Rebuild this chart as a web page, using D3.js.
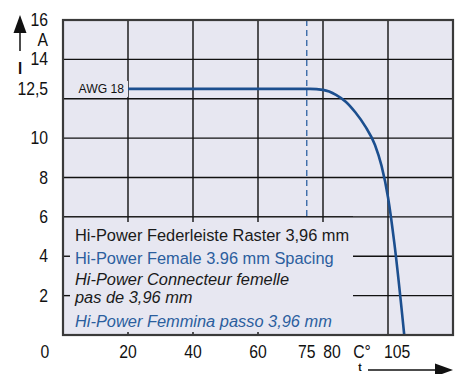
<!DOCTYPE html>
<html>
<head>
<meta charset="utf-8">
<script src="https://cdn.jsdelivr.net/npm/d3@7"></script>
<style>
  body { margin: 0; background: #fff; }
  svg text { font-family: "Liberation Sans", Arial, sans-serif; }
</style>
</head>
<body>
<div class="chart"></div>
<script>
// derating curve, temperature (°C) vs current (A)
var tempC = [20, 76, 80, 84, 87, 90, 93, 96, 98, 100, 102, 105];
var currentA = [12.5, 12.5, 12.45, 12.2, 11.85, 11.3, 10.6, 9.65, 8.6, 7.0, 4.6, 0];

var xGrid = [20, 40, 60, 80, 100];
var yGrid = [2, 4, 6, 8, 10, 12, 14];
var xTickVals = [20, 40, 60, 75, 80, 105];
var yTickVals = [2, 4, 6, 8, 10, 12.5, 14, 16];
var yTickLabels = ['2', '4', '6', '8', '10', '12,5', '14', '16'];
var ratedTemp = 75;
var wireLabel = 'AWG 18';
var legendLines = [
  {text: 'Hi-Power Federleiste Raster 3,96 mm', color: '#1a1a1a', italic: false},
  {text: 'Hi-Power Female 3.96 mm Spacing', color: '#2b5e9e', italic: false},
  {text: 'Hi-Power Connecteur femelle', color: '#1a1a1a', italic: true},
  {text: 'pas de 3,96 mm', color: '#1a1a1a', italic: true},
  {text: 'Hi-Power Femmina passo 3,96 mm', color: '#2b5e9e', italic: true}
];

var W = 458, H = 374;
var bg = '#e7e7f1';
var blue = '#1c4f8f';

var svg = d3.select('.chart').append('svg')
  .attr('width', W)
  .attr('height', H);

var x = d3.scaleLinear().domain([0, 120]).range([63, 453]);
var y = d3.scaleLinear().domain([0, 16]).range([335, 20]);

// condensed text: horizontal squeeze around the anchor point
function label(px, py, str, opts) {
  opts = opts || {};
  return svg.append('text')
    .attr('transform', 'translate(' + px + ',' + py + ') scale(' + (opts.sx || 0.88) + ',1)')
    .attr('text-anchor', opts.anchor || 'middle')
    .attr('font-size', opts.size || 17.5)
    .attr('font-style', opts.italic ? 'italic' : 'normal')
    .attr('font-weight', opts.bold ? 'bold' : 'normal')
    .attr('fill', opts.color || '#111')
    .text(str);
}

// plot background
svg.append('rect')
  .attr('x', x(0)).attr('y', y(16))
  .attr('width', x(120) - x(0)).attr('height', y(0) - y(16))
  .attr('fill', bg);

// grid
svg.selectAll('.vgrid').data(xGrid).enter().append('line')
  .attr('x1', function (d) { return x(d); }).attr('x2', function (d) { return x(d); })
  .attr('y1', y(16)).attr('y2', y(0))
  .attr('stroke', '#111').attr('stroke-width', 1.4);

svg.selectAll('.hgrid').data(yGrid).enter().append('line')
  .attr('x1', x(0)).attr('x2', x(120))
  .attr('y1', function (d) { return y(d); }).attr('y2', function (d) { return y(d); })
  .attr('stroke', '#111').attr('stroke-width', 1.4);

// dashed line at rated temperature
svg.append('line')
  .attr('x1', x(ratedTemp)).attr('x2', x(ratedTemp))
  .attr('y1', y(16)).attr('y2', y(6))
  .attr('stroke', '#3a6aa8').attr('stroke-width', 1.4)
  .attr('stroke-dasharray', '6,4');

// legend box masks the grid
var boxRight = 353;
svg.append('rect')
  .attr('x', x(0)).attr('y', y(6))
  .attr('width', boxRight - x(0)).attr('height', y(0) - y(6))
  .attr('fill', bg);
svg.append('line')
  .attr('x1', x(0)).attr('x2', boxRight)
  .attr('y1', y(6)).attr('y2', y(6))
  .attr('stroke', '#111').attr('stroke-width', 1.4);

// small ticks left inside the legend box
svg.selectAll('.ltick').data([2, 4]).enter().append('line')
  .attr('x1', x(0)).attr('x2', x(0) + 7)
  .attr('y1', function (d) { return y(d); }).attr('y2', function (d) { return y(d); })
  .attr('stroke', '#111').attr('stroke-width', 1.4);
svg.selectAll('.ttick').data([20, 40, 60, 80]).enter().append('line')
  .attr('x1', function (d) { return x(d); }).attr('x2', function (d) { return x(d); })
  .attr('y1', y(6)).attr('y2', y(6) + 5)
  .attr('stroke', '#111').attr('stroke-width', 1.4);
svg.selectAll('.btick').data([20, 40, 60]).enter().append('line')
  .attr('x1', function (d) { return x(d); }).attr('x2', function (d) { return x(d); })
  .attr('y1', y(0)).attr('y2', y(0) - 3)
  .attr('stroke', '#111').attr('stroke-width', 1.4);

// AWG label box
svg.append('rect')
  .attr('x', x(0) + 1).attr('y', y(12.5) - 8)
  .attr('width', x(20) - x(0) - 1).attr('height', 16)
  .attr('fill', bg);
label(x(20) - 4, y(12.5) + 4.5, wireLabel, {anchor: 'end', size: 13.5, sx: 0.9});

// curve
var line = d3.line()
  .x(function (d) { return x(d[0]); })
  .y(function (d) { return y(d[1]); })
  .curve(d3.curveMonotoneX);

svg.append('path')
  .datum(d3.zip(tempC, currentA))
  .attr('d', line)
  .attr('fill', 'none')
  .attr('stroke', blue)
  .attr('stroke-width', 2.6);

// plot frame
svg.append('rect')
  .attr('x', x(0)).attr('y', y(16))
  .attr('width', x(120) - x(0)).attr('height', y(0) - y(16))
  .attr('fill', 'none')
  .attr('stroke', '#3a3a3a').attr('stroke-width', 2.2);

// legend text
var lineY = [241, 264, 285, 303, 327];
legendLines.forEach(function (d, i) {
  label(75, lineY[i], d.text, {anchor: 'start', size: 17, sx: 0.965, italic: d.italic, color: d.color});
});

// y tick labels
yTickVals.forEach(function (d, i) {
  label(48, y(d) + 6, yTickLabels[i], {anchor: 'end', sx: 0.9});
});
label(48, y(15) + 6, 'A', {anchor: 'end', sx: 0.9});

// x tick labels
var xNudge = {80: 9, 105: -7};
xTickVals.forEach(function (d) {
  label(x(d) + (xNudge[d] || 0), 358, String(d), {sx: 0.9});
});
label(45, 358, '0', {sx: 0.9});
label(362, 358, 'C°', {sx: 0.9});

// current arrow (I)
svg.append('line')
  .attr('x1', 20).attr('x2', 20).attr('y1', 32).attr('y2', 51)
  .attr('stroke', '#111').attr('stroke-width', 1.5);
svg.append('path')
  .attr('d', 'M20,15 L26.5,33 L13.5,33 Z')
  .attr('fill', '#111');
label(20, 74, 'I', {size: 17, bold: true});

// temperature arrow (t)
svg.append('line')
  .attr('x1', 368).attr('x2', 438).attr('y1', 370).attr('y2', 370)
  .attr('stroke', '#111').attr('stroke-width', 1.5);
svg.append('path')
  .attr('d', 'M453,370 L435,363.5 L435,376.5 Z')
  .attr('fill', '#111');
label(360, 371, 't', {size: 11.5, bold: true});
</script>
</body>
</html>
